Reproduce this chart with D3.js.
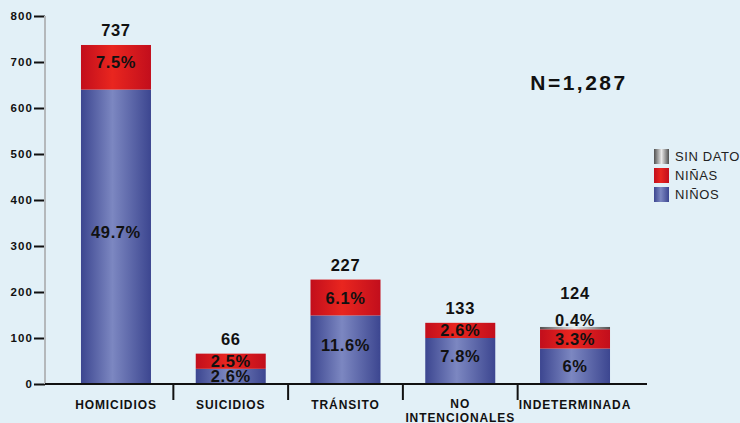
<!DOCTYPE html>
<html><head><meta charset="utf-8">
<script src="https://cdn.jsdelivr.net/npm/d3@7"></script>
<style>
html,body{margin:0;padding:0;background:#e2f0f7;}
svg{display:block;}
</style></head>
<body>
<svg id="c" width="740" height="423"></svg>
<script>
const categories = ["HOMICIDIOS","SUICIDIOS","TRÁNSITO","NO\nINTENCIONALES","INDETERMINADA"];
const ninos = [640, 33, 149, 100, 77];
const ninas = [97, 33, 78, 33, 42];
const sinDato = [0, 0, 0, 0, 5];
const totals = [737, 66, 227, 133, 124];
const pctNinos = ["49.7%","2.6%","11.6%","7.8%","6%"];
const pctNinas = ["7.5%","2.5%","6.1%","2.6%","3.3%"];
const pctSinDato = ["","","","","0.4%"];
const yTicks = [0,100,200,300,400,500,600,700,800];
const legendItems = ["SIN DATO","NIÑAS","NIÑOS"];
const nLabel = "N=1,287";

const svg = d3.select("#c");
const defs = svg.append("defs");
function grad(id, stops){
  const g = defs.append("linearGradient").attr("id",id).attr("x1","0%").attr("x2","100%").attr("y1","0%").attr("y2","0%");
  stops.forEach(s=>g.append("stop").attr("offset",s[0]).attr("stop-color",s[1]));
}
grad("gBlue",[["0%","#3c4690"],["45%","#7c87c1"],["100%","#3c4690"]]);
grad("gRed",[["0%","#c20e1c"],["45%","#e9261f"],["100%","#c20e1c"]]);
grad("gGray",[["0%","#505050"],["50%","#e8e8e8"],["100%","#505050"]]);

const x = d3.scaleBand().domain(categories).range([58.6,632.4]).paddingInner(0.39).paddingOuter(0.195);
const y = d3.scaleLinear().domain([0,800]).range([384,16]);

// y axis
const yAxis = svg.append("g").attr("transform","translate(45,0)")
  .call(d3.axisLeft(y).tickValues(yTicks).tickSize(11).tickPadding(1));
yAxis.select(".domain").remove();
yAxis.selectAll(".tick line").attr("stroke","#111").attr("stroke-width",2);
yAxis.selectAll(".tick text").attr("font-family","'Liberation Sans',Arial,sans-serif").attr("font-weight","bold")
  .attr("font-size",11.5).attr("letter-spacing","1.1").attr("fill","#111");
svg.append("line").attr("x1",45).attr("x2",45).attr("y1",y(800)).attr("y2",y(0)).attr("stroke","#b4b8bb").attr("stroke-width",2);

// bars
const stacks = categories.map((c,i)=>({c, segs:[
  {v0:0, v1:ninos[i], fill:"url(#gBlue)", lab:pctNinos[i]},
  {v0:ninos[i], v1:ninos[i]+ninas[i], fill:"url(#gRed)", lab:pctNinas[i]},
  {v0:ninos[i]+ninas[i], v1:ninos[i]+ninas[i]+sinDato[i], fill:"url(#gGray)", lab:pctSinDato[i]}
]}));
const bw = x.bandwidth();
stacks.forEach((s,i)=>{
  s.segs.forEach((seg,k)=>{
    if(seg.v1-seg.v0<=0) return;
    svg.append("rect").attr("x",x(s.c)).attr("width",bw)
      .attr("y",y(seg.v1)).attr("height",y(seg.v0)-y(seg.v1)).attr("fill",seg.fill);
  });
});
// baseline
svg.append("line").attr("x1",45).attr("x2",647).attr("y1",y(0)).attr("y2",y(0)).attr("stroke","#111").attr("stroke-width",2);
// category separators
categories.slice(0,-1).forEach(c=>{
  const xx = x(c)+bw/2+x.step()/2;
  svg.append("line").attr("x1",xx).attr("x2",xx).attr("y1",y(0)).attr("y2",y(0)+16).attr("stroke","#111").attr("stroke-width",2);
});

const valFont = "'Liberation Sans',Arial,sans-serif";
// segment labels
stacks.forEach((s,i)=>{
  const cx = x(s.c)+bw/2;
  s.segs.forEach((seg,k)=>{
    if(!seg.lab) return;
    let ty;
    const h = y(seg.v0)-y(seg.v1);
    if(k===2){ ty = y(seg.v1)-1; }
    else ty = (y(seg.v0)+y(seg.v1))/2 + (h>40 ? 1 : 6);
    svg.append("text").attr("x",cx).attr("y",ty).attr("text-anchor","middle")
      .attr("font-family",valFont).attr("font-weight","bold").attr("font-size",16.5)
      .attr("letter-spacing","0.6").attr("fill","#111").text(seg.lab);
  });
  const top = ninos[i]+ninas[i]+sinDato[i];
  const ty = sinDato[i]>0 ? y(top)-28 : y(top)-9;
  svg.append("text").attr("x",cx).attr("y",ty).attr("text-anchor","middle")
    .attr("font-family",valFont).attr("font-weight","bold").attr("font-size",16.5)
    .attr("letter-spacing","0.6").attr("fill","#111").text(totals[i]);
});

// x labels
categories.forEach(c=>{
  const lines = c.split("\n");
  const t = svg.append("text").attr("text-anchor","middle")
    .attr("font-family",valFont).attr("font-weight","bold").attr("font-size",12)
    .attr("letter-spacing","0.9").attr("fill","#111");
  lines.forEach((l,j)=>{
    t.append("tspan").attr("x",x(c)+bw/2).attr("y",(lines.length>1?408:409)+j*14).text(l);
  });
});

// N label
svg.append("text").attr("x",579).attr("y",90).attr("text-anchor","middle")
  .attr("font-family",valFont).attr("font-weight","bold").attr("font-size",21)
  .attr("letter-spacing","2.5").attr("fill","#111").text(nLabel);

// legend
const lfills = ["url(#gGray)","url(#gRed)","url(#gBlue)"];
legendItems.forEach((l,i)=>{
  svg.append("rect").attr("x",654).attr("y",149+i*19).attr("width",15).attr("height",15).attr("fill",lfills[i]);
  svg.append("text").attr("x",675).attr("y",161+i*19).attr("font-family",valFont)
    .attr("font-size",13).attr("letter-spacing","0.6").attr("fill","#222").text(l);
});
</script>
</body></html>
